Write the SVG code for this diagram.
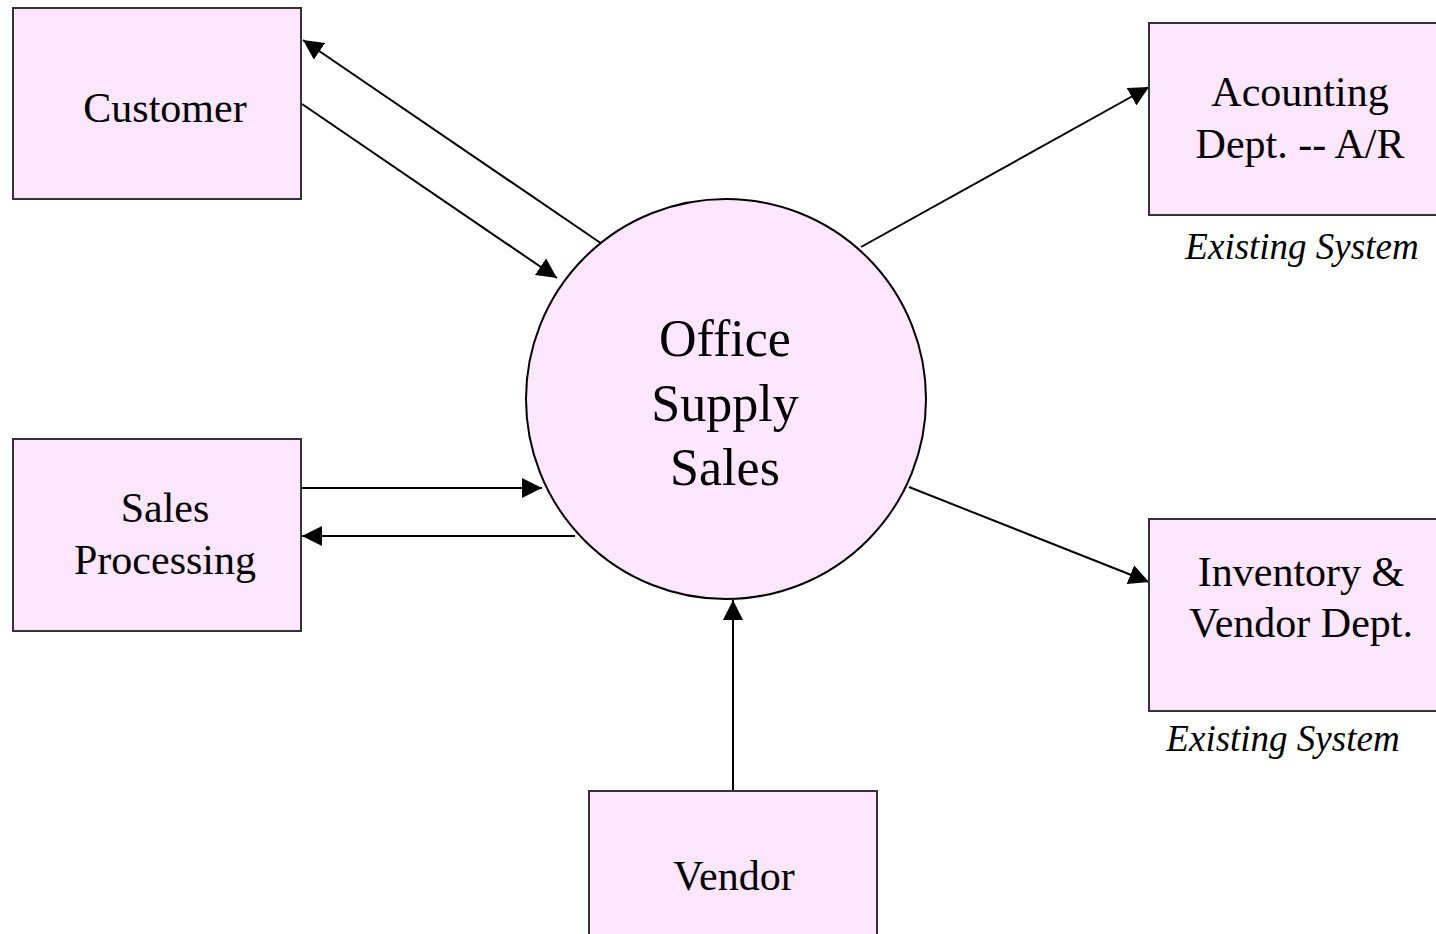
<svg xmlns="http://www.w3.org/2000/svg" width="1436" height="934" viewBox="0 0 1436 934">
<style>
.box{fill:#FFE6FF;stroke:#333;stroke-width:2}
.proc{fill:#FFE6FF;stroke:#000;stroke-width:2}
.t{font-family:"Liberation Serif","Times New Roman",serif;font-size:42px;fill:#000;text-anchor:middle}
.tc{font-family:"Liberation Serif","Times New Roman",serif;font-size:52px;fill:#000;text-anchor:middle}
.note{font-family:"Liberation Serif","Times New Roman",serif;font-size:37px;font-style:italic;fill:#000;text-anchor:middle}
.flow{stroke:#000;stroke-width:2;fill:none;marker-end:url(#arr)}
</style>
<defs>
<marker id="arr" markerUnits="userSpaceOnUse" markerWidth="20" markerHeight="20" refX="20" refY="10" orient="auto" viewBox="0 0 20 20">
<path d="M0,0 L20,10 L0,20 Z" fill="#000"/>
</marker>
</defs>
<rect width="1436" height="934" fill="#fff"/>
<g id="connectors">
<line class="flow" x1="605" y1="246" x2="303" y2="40"/>
<line class="flow" x1="302" y1="104" x2="557" y2="278"/>
<line class="flow" x1="861" y1="247" x2="1149" y2="87"/>
<line class="flow" x1="302" y1="488" x2="542" y2="488"/>
<line class="flow" x1="575" y1="536" x2="302" y2="536"/>
<line class="flow" x1="909" y1="487" x2="1149" y2="582"/>
<line class="flow" x1="733" y1="791" x2="733" y2="600"/>
</g>
<g id="customer">
<rect class="box" x="13" y="8" width="288" height="191"/>
<text class="t" x="165" y="122">Customer</text>
</g>
<g id="sales-processing">
<rect class="box" x="13" y="439" width="288" height="192"/>
<text class="t" x="165" y="522">Sales</text>
<text class="t" x="165" y="574">Processing</text>
</g>
<g id="office-supply-sales">
<circle class="proc" cx="726" cy="399" r="200"/>
<text class="tc" x="725" y="356">Office</text>
<text class="tc" x="725" y="421">Supply</text>
<text class="tc" x="725" y="485">Sales</text>
</g>
<g id="accounting">
<rect class="box" x="1149" y="23" width="300" height="192"/>
<text class="t" x="1300" y="106">Acounting</text>
<text class="t" x="1300" y="158">Dept. -- A/R</text>
<text class="note" x="1302" y="259">Existing System</text>
</g>
<g id="inventory">
<rect class="box" x="1149" y="519" width="300" height="192"/>
<text class="t" x="1301" y="586">Inventory &amp;</text>
<text class="t" x="1301" y="637">Vendor Dept.</text>
<text class="note" x="1283" y="751">Existing System</text>
</g>
<g id="vendor">
<rect class="box" x="589" y="791" width="288" height="160"/>
<text class="t" x="734" y="890">Vendor</text>
</g>
</svg>
